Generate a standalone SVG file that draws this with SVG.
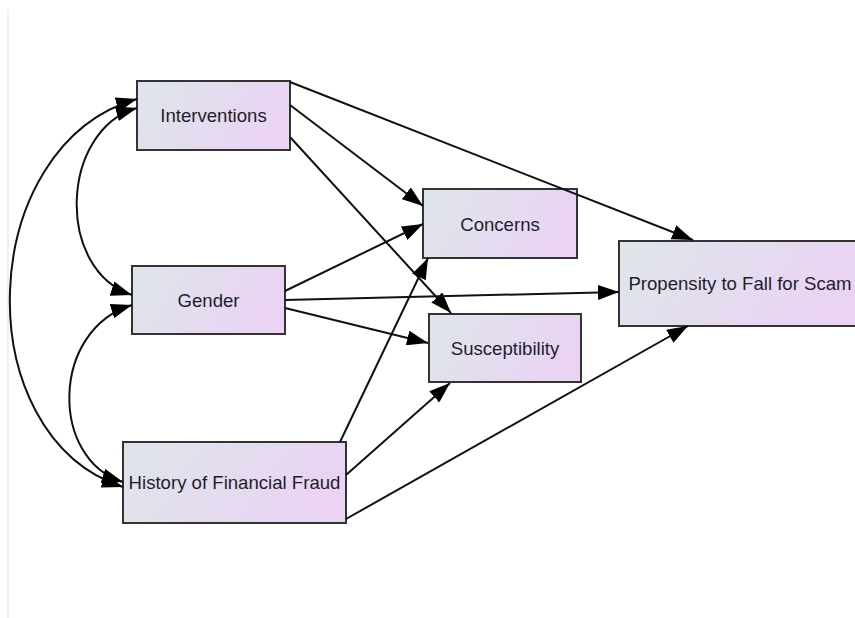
<svg xmlns="http://www.w3.org/2000/svg" width="855" height="618" viewBox="0 0 855 618">
  <defs>
    <linearGradient id="nodeFill" x1="0" y1="0" x2="1" y2="0.25">
      <stop offset="0" stop-color="#dee6ea"/>
      <stop offset="1" stop-color="#ead3f3"/>
    </linearGradient>
    <marker id="arr" markerUnits="userSpaceOnUse" markerWidth="21" markerHeight="15" refX="21" refY="7.5" orient="auto-start-reverse" viewBox="0 0 21 15">
      <path d="M0,0 L21,7.5 L0,15 z" fill="#000"/>
    </marker>
    <style>
      .node rect { fill: url(#nodeFill); stroke: #333; stroke-width: 2; }
      .node text { font-family: "Liberation Sans", Arial, sans-serif; font-size: 18.6px; fill: #1e1e2a; text-anchor: middle; }
      .edge { fill: none; stroke: #111; stroke-width: 2; marker-end: url(#arr); }
      .bi { marker-start: url(#arr); }
    </style>
  </defs>
  <rect width="855" height="618" fill="#fff"/>
  <line x1="8" y1="10" x2="8" y2="618" stroke="#ececec" stroke-width="1.5"/>

  <g id="interventions" class="node">
    <rect x="137" y="81" width="153" height="69"/>
    <text x="213.5" y="122">Interventions</text>
  </g>
  <g id="gender" class="node">
    <rect x="132" y="266" width="153" height="68"/>
    <text x="208.5" y="306.5">Gender</text>
  </g>
  <g id="history" class="node">
    <rect x="123" y="442" width="223" height="81"/>
    <text x="234.5" y="489">History of Financial Fraud</text>
  </g>
  <g id="concerns" class="node">
    <rect x="423" y="189" width="154" height="69"/>
    <text x="500" y="230.5">Concerns</text>
  </g>
  <g id="susceptibility" class="node">
    <rect x="429" y="314" width="152" height="68"/>
    <text x="505" y="354.5">Susceptibility</text>
  </g>
  <g id="propensity" class="node">
    <rect x="619" y="241" width="242" height="85"/>
    <text x="740" y="290">Propensity to Fall for Scam</text>
  </g>

  <g id="connectors">
    <path class="edge bi" d="M137,108 C60,130 55,270 132,295"/>
    <path class="edge bi" d="M132,305 C50,330 50,460 123,482"/>
    <path class="edge bi" d="M137,99 C-25,145 -35,435 123,487"/>
    <path class="edge" d="M290,82 L693,240"/>
    <path class="edge" d="M290,105 L423,206"/>
    <path class="edge" d="M290,137 L451,313"/>
    <path class="edge" d="M285,291 L423,224"/>
    <path class="edge" d="M285,300 L619,292"/>
    <path class="edge" d="M285,308 L428,343"/>
    <path class="edge" d="M340,442 L428,258"/>
    <path class="edge" d="M346,475 L450,383"/>
    <path class="edge" d="M346,519 L688,326"/>
  </g>
</svg>
